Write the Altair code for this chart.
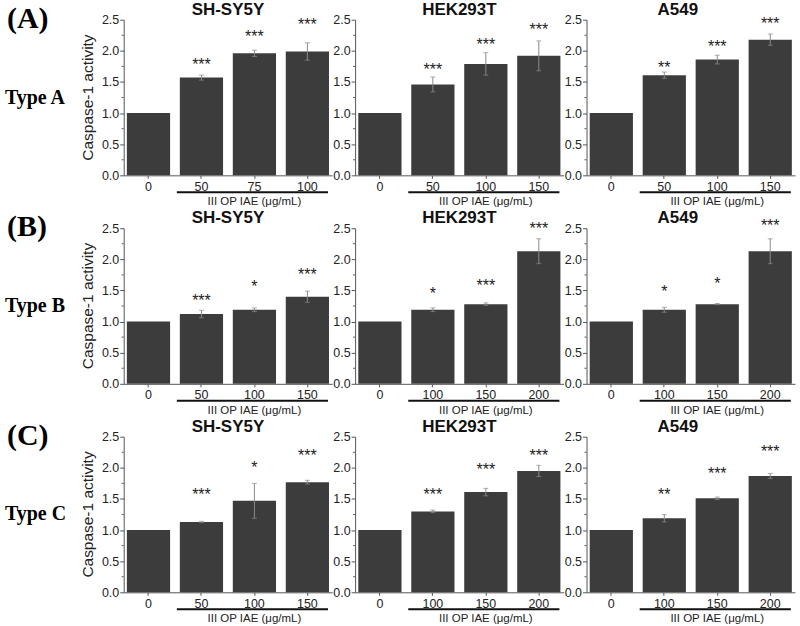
import altair as alt
import pandas as pd

# ---- data -------------------------------------------------------------
cells = ["SH-SY5Y", "HEK293T", "A549"]
panel_tags = ["(A)", "(B)", "(C)"]
type_names = ["Type A", "Type B", "Type C"]
x_title = "III OP IAE (\u03bcg/mL)"
y_title = "Caspase-1 activity"

# Type A extract
doses_a = [["0", "50", "75", "100"], ["0", "50", "100", "150"], ["0", "50", "100", "150"]]
means_a = [[1.00, 1.57, 1.96, 1.99], [1.00, 1.46, 1.79, 1.92], [1.00, 1.61, 1.86, 2.18]]
errs_a = [[0, 0.04, 0.05, 0.14], [0, 0.12, 0.18, 0.24], [0, 0.05, 0.07, 0.09]]
sig_a = [["", "***", "***", "***"], ["", "***", "***", "***"], ["", "**", "***", "***"]]
sig_y_a = [[None, 1.84, 2.29, 2.48], [None, 1.76, 2.16, 2.40], [None, 1.79, 2.12, 2.50]]

# Type B extract
doses_b = [["0", "50", "100", "150"], ["0", "100", "150", "200"], ["0", "100", "150", "200"]]
means_b = [[1.00, 1.12, 1.19, 1.40], [1.00, 1.19, 1.28, 2.13], [1.00, 1.19, 1.28, 2.13]]
errs_b = [[0, 0.06, 0.03, 0.09], [0, 0.03, 0.02, 0.20], [0, 0.04, 0.01, 0.20]]
sig_b = [["", "***", "*", "***"], ["", "*", "***", "***"], ["", "*", "*", "***"]]
sig_y_b = [[None, 1.39, 1.62, 1.81], [None, 1.51, 1.64, 2.55], [None, 1.54, 1.67, 2.60]]

# Type C extract
doses_c = [["0", "50", "100", "150"], ["0", "100", "150", "200"], ["0", "100", "150", "200"]]
means_c = [[1.00, 1.13, 1.47, 1.77], [1.00, 1.30, 1.61, 1.95], [1.00, 1.19, 1.51, 1.87]]
errs_c = [[0, 0.01, 0.28, 0.03], [0, 0.02, 0.06, 0.09], [0, 0.06, 0.02, 0.04]]
sig_c = [["", "***", "*", "***"], ["", "***", "***", "***"], ["", "**", "***", "***"]]
sig_y_c = [[None, 1.63, 2.06, 2.26], [None, 1.63, 2.03, 2.26], [None, 1.63, 1.96, 2.32]]

y_major = [0.0, 0.5, 1.0, 1.5, 2.0, 2.5]
y_minor = [0.25, 0.75, 1.25, 1.75, 2.25]

# ---- styling ----------------------------------------------------------
W, H = 209, 156
BAR = "#3c3c3c"
AXIS = "#555555"
SANS = "Liberation Sans"
SERIF = "Liberation Serif"
title_shift = [0, 0, -13]

x_axis = alt.Axis(labelAngle=0, labelFontSize=12.5, labelColor="#222",
                  domainColor=AXIS, tickColor=AXIS, tickSize=3,
                  labelPadding=2, grid=False, title=None)
y_axis = alt.Axis(values=y_major, format=".1f", labelFontSize=12.5,
                  labelColor="#222", domainColor=AXIS, tickColor=AXIS,
                  tickSize=4, labelPadding=1, grid=False, title=None)


def panel(row, col, dose, mean, err, sig, sig_y):
    df = pd.DataFrame({"dose": dose, "mean": mean, "err": err, "sig": sig, "sig_y": sig_y})
    df["lo"] = df["mean"] - df["err"]
    df["hi"] = df["mean"] + df["err"]
    span = pd.DataFrame({"start": [dose[1]], "mid": [dose[2]], "end": [dose[-1]]})
    minor = pd.DataFrame({"m": y_minor})

    xs = alt.Scale(domain=dose, paddingInner=0.184, paddingOuter=0.06)
    ys = alt.Scale(domain=[0, 2.5], nice=False, zero=True)
    x_dose = alt.X("dose:N", scale=xs, sort=dose, axis=x_axis)

    bars = alt.Chart(df).mark_bar(color=BAR).encode(
        x=x_dose,
        y=alt.Y("mean:Q", scale=ys, axis=y_axis),
    )

    # error bars with small caps, drawn only for treated groups
    errd = alt.Chart(df).transform_filter("datum.err > 0")
    err_line = errd.mark_rule(color="#8a8a8a", strokeWidth=1).encode(
        x=x_dose,
        y=alt.Y("lo:Q", scale=ys, axis=y_axis),
        y2="hi:Q",
    )
    caps = errd.transform_fold(["lo", "hi"]).mark_tick(
        color="#8a8a8a", size=5, thickness=1
    ).encode(x=x_dose, y=alt.Y("value:Q", scale=ys, axis=y_axis))

    stars = alt.Chart(df).transform_filter("datum.sig != ''").mark_text(
        font=SANS, fontSize=16, color="#222", baseline="alphabetic", dy=9
    ).encode(x=x_dose, y=alt.Y("sig_y:Q", scale=ys, axis=y_axis), text="sig:N")

    minor_ticks = alt.Chart(minor).mark_rule(color=AXIS, strokeWidth=1).encode(
        y=alt.Y("m:Q", scale=ys, axis=y_axis), x=alt.value(0), x2=alt.value(-2)
    )

    # bracket line under the treated doses and its label
    underline = alt.Chart(span).mark_rule(color="#111", strokeWidth=2, xOffset=-3, x2Offset=-1).encode(
        x=alt.X("start:N", scale=xs, bandPosition=0, axis=x_axis),
        x2=alt.X2("end", bandPosition=1),
        y=alt.value(H + 17),
    )
    treat_label = alt.Chart(span).mark_text(
        text=x_title, font=SANS, fontSize=11.5, color="#222", baseline="middle"
    ).encode(x=alt.X("mid:N", scale=xs, bandPosition=0.5, axis=x_axis), y=alt.value(H + 27))

    head = alt.Chart(span).mark_text(
        text=cells[col], font=SANS, fontSize=17, fontWeight="bold", color="#111",
        baseline="alphabetic"
    ).encode(x=alt.value(W / 2 + title_shift[col]), y=alt.value(-5))

    layers = [bars, err_line, caps, stars, minor_ticks, underline, treat_label, head]

    if col == 0:
        layers.append(alt.Chart(span).mark_text(
            text=y_title, font=SANS, fontSize=15.5, color="#222", angle=270,
            align="center", baseline="middle"
        ).encode(x=alt.value(-36), y=alt.value(H / 2)))
        layers.append(alt.Chart(span).mark_text(
            text=panel_tags[row], font=SERIF, fontSize=30, fontWeight="bold",
            color="#000", align="left", baseline="alphabetic"
        ).encode(x=alt.value(-117), y=alt.value(8)))
        layers.append(alt.Chart(span).mark_text(
            text=type_names[row], font=SERIF, fontSize=20, fontWeight="bold",
            color="#000", align="left", baseline="alphabetic"
        ).encode(x=alt.value(-119), y=alt.value(84)))

    return alt.layer(*layers).properties(width=W, height=H)


groups = [
    (doses_a, means_a, errs_a, sig_a, sig_y_a),
    (doses_b, means_b, errs_b, sig_b, sig_y_b),
    (doses_c, means_c, errs_c, sig_c, sig_y_c),
]

panels = []
for r, (ds, ms, es, ss, sy) in enumerate(groups):
    for c in range(3):
        panels.append(panel(r, c, ds[c], ms[c], es[c], ss[c], sy[c]))

chart = alt.concat(
    *panels, columns=3, spacing={"row": 53, "column": 23}, bounds="flush"
).properties(
    padding={"left": 5, "top": 0, "right": 5, "bottom": 0}
).configure(
    font=SANS, background="white"
).configure_view(stroke=None)

chart.save("out.html", embed_options={"renderer": "svg", "actions": False})
